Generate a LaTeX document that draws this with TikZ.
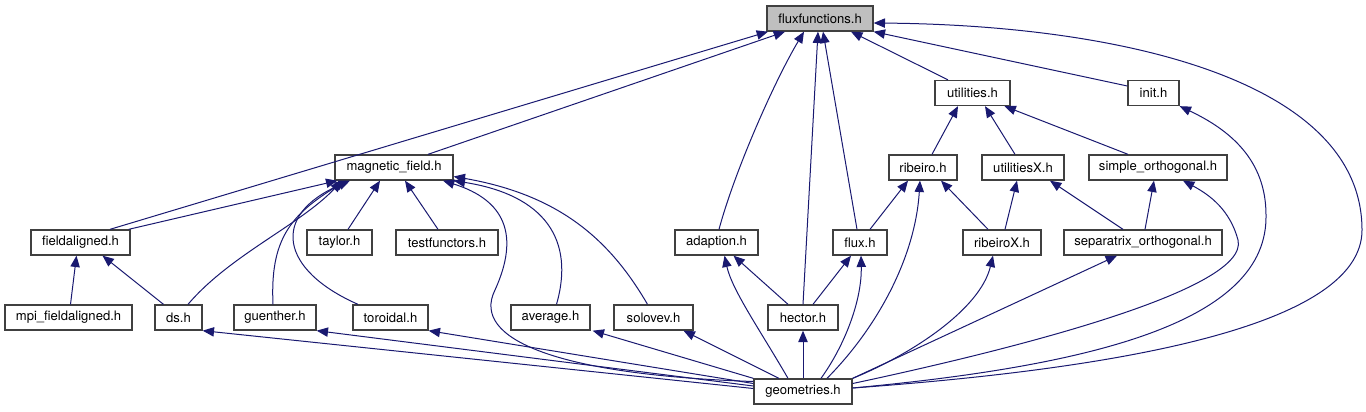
\documentclass[tikz,border=0pt]{standalone}
\usepackage{fontspec}
\setsansfont{TeX Gyre Heros}
\usetikzlibrary{arrows.meta,calc}
\definecolor{edgeblue}{HTML}{191970}
\definecolor{boxgray}{HTML}{404040}
\definecolor{rootgray}{HTML}{BFBFBF}

\begin{document}
\begin{tikzpicture}[x=0.75pt,y=-0.75pt,font=\sffamily\fontsize{9.8pt}{11pt}\selectfont,
  hfile/.style={draw=boxgray,line width=1pt,fill=white,inner xsep=0pt,minimum height=18.75pt},
  incl/.style={draw=edgeblue,line width=0.75pt,-{Triangle[length=8.5pt,width=7pt]}}]
  \useasboundingbox (0,0) rectangle (1366,411);

  % header files, one row per level
  \node[hfile,fill=rootgray,minimum width=79.5pt] (ff) at (820,18.5) {fluxfunctions.h};
  \node[hfile,minimum width=56.25pt] (util) at (972.5,93) {utilities.h};
  \node[hfile,minimum width=38.25pt] (init) at (1153.5,93) {init.h};
  \node[hfile,minimum width=88.5pt] (magf) at (394,167.5) {magnetic\_field.h};
  \node[hfile,minimum width=51pt] (rib) at (923,167.5) {ribeiro.h};
  \node[hfile,minimum width=61.5pt] (utilx) at (1023,167.5) {utilitiesX.h};
  \node[hfile,minimum width=103.5pt] (simple) at (1158,167.5) {simple\_orthogonal.h};
  \node[hfile,minimum width=74.25pt] (fa) at (80.5,242.5) {fieldaligned.h};
  \node[hfile,minimum width=48.75pt] (taylor) at (339.5,242.5) {taylor.h};
  \node[hfile,minimum width=76.5pt] (testf) at (447,242.5) {testfunctors.h};
  \node[hfile,minimum width=62.25pt] (adapt) at (716.5,242.5) {adaption.h};
  \node[hfile,minimum width=40.5pt] (flux) at (860,242.5) {flux.h};
  \node[hfile,minimum width=58.5pt] (ribx) at (1002,242.5) {ribeiroX.h};
  \node[hfile,minimum width=118.5pt] (sep) at (1143,242.5) {separatrix\_orthogonal.h};
  \node[hfile,minimum width=95.25pt] (mpi) at (68.5,317.5) {mpi\_fieldaligned.h};
  \node[hfile,minimum width=35.25pt] (ds) at (178.5,317.5) {ds.h};
  \node[hfile,minimum width=61.5pt] (guen) at (275,317.5) {guenther.h};
  \node[hfile,minimum width=56.25pt] (tor) at (390.5,317.5) {toroidal.h};
  \node[hfile,minimum width=59.25pt] (avg) at (550.5,317.5) {average.h};
  \node[hfile,minimum width=59.25pt] (sol) at (653.5,317.5) {solovev.h};
  \node[hfile,minimum width=52.5pt] (hector) at (803,317.5) {hector.h};
  \node[hfile,minimum width=73.5pt] (geom) at (803,391.5) {geometries.h};

  % into fluxfunctions.h
  \draw[incl] ($(fa.north)+(29.5,0)$) -- ($(ff.south)+(-52,0)$);
  \draw[incl] ($(magf.north)+(34,0)$) -- ($(ff.south)+(-35,0)$);
  \draw[incl] ($(adapt.north)+(2.5,0)$) .. controls (735,170) and (775,80) .. ($(ff.south)+(-16,0)$);
  \draw[incl] (hector.north) -- ($(ff.south)+(-2,0)$);
  \draw[incl] ($(flux.north)+(-3,0)$) -- ($(ff.south)+(3,0)$);
  \draw[incl] ($(util.north)+(-24.5,0)$) -- ($(ff.south)+(31,0)$);
  \draw[incl] ($(init.west)+(0,-7)$) -- (ff.south east);
  \draw[incl] ($(geom.east)+(0,-3.5)$) .. controls (1100,370) and (1362,330) .. (1362,230)
    .. controls (1362,80) and (1120,25) .. ($(ff.east)+(0,4.5)$);

  % into utilities.h and init.h
  \draw[incl] ($(rib.north)+(9,0)$) -- ($(util.south)+(-14.5,0)$);
  \draw[incl] ($(utilx.north)+(-8,0)$) -- ($(util.south)+(12.5,0)$);
  \draw[incl] ($(simple.north)+(-30,0)$) -- ($(util.south)+(32,0)$);
  \draw[incl] ($(geom.east)+(0,-3.5)$) .. controls (1100,365) and (1268,320) .. (1266,215)
    .. controls (1266,160) and (1230,130) .. (init.south east);

  % into magnetic_field.h
  \draw[incl] ($(fa.north east)+(-2,0)$) -- ($(magf.south west)+(3,0)$);
  \draw[incl] ($(ds.north)+(9.5,0)$) .. controls (230,255) and (300,225) .. ($(magf.south)+(-52,0)$);
  \draw[incl] ($(guen.north)+(-2,0)$) .. controls (270,240) and (290,215) .. ($(magf.south)+(-48,0)$);
  \draw[incl] ($(tor.north)+(-32.5,0)$) .. controls (280,270) and (270,215) .. ($(magf.south)+(-44,0)$);
  \draw[incl] ($(taylor.north)+(8.5,0)$) -- ($(magf.south)+(-14,0)$);
  \draw[incl] ($(testf.north)+(-9,0)$) -- ($(magf.south)+(11,0)$);
  \draw[incl] ($(geom.west)+(0,-10)$) .. controls (560,375) and (470,340) .. (495,290)
    .. controls (520,235) and (505,200) .. ($(magf.south)+(49,0)$);
  \draw[incl] ($(avg.north)+(6,0)$) .. controls (575,240) and (545,195) .. (magf.south east);
  \draw[incl] ($(sol.north)+(-6,0)$) .. controls (610,240) and (560,195) .. ($(magf.east)+(0,9)$);

  % into ribeiro.h, utilitiesX.h, simple_orthogonal.h
  \draw[incl] ($(flux.north)+(10,0)$) -- ($(rib.south)+(-15,0)$);
  \draw[incl] ($(geom.north)+(24,0)$) .. controls (875,330) and (915,260) .. ($(rib.south)+(-3,0)$);
  \draw[incl] ($(ribx.north)+(-14,0)$) -- ($(rib.south)+(18,0)$);
  \draw[incl] ($(ribx.north)+(3,0)$) -- ($(utilx.south)+(-6,0)$);
  \draw[incl] ($(sep.north)+(-20,0)$) -- ($(utilx.south)+(27,0)$);
  \draw[incl] ($(sep.north)+(2,0)$) -- ($(simple.south)+(-4,0)$);
  \draw[incl] ($(geom.east)+(0,-8)$) .. controls (1010,350) and (1250,290) .. (1238,240)
    .. controls (1230,210) and (1210,195) .. ($(simple.south)+(25,0)$);

  % into fieldaligned.h
  \draw[incl] ($(mpi.north)+(2,0)$) -- ($(fa.south)+(-4,0)$);
  \draw[incl] ($(ds.north)+(-15,0)$) -- ($(fa.south)+(22,0)$);

  % into adaption.h, flux.h, ribeiroX.h, separatrix_orthogonal.h
  \draw[incl] ($(hector.north)+(-15,0)$) -- ($(adapt.south)+(17,0)$);
  \draw[incl] ($(geom.north)+(-15,0)$) .. controls (760,330) and (732,290) .. ($(adapt.south)+(8,0)$);
  \draw[incl] ($(hector.north)+(10,0)$) -- ($(flux.south)+(-9,0)$);
  \draw[incl] ($(geom.north)+(18,0)$) .. controls (845,345) and (862,300) .. ($(flux.south)+(1,0)$);
  \draw[incl] (geom.north east) .. controls (910,355) and (980,310) .. ($(ribx.south)+(-9,0)$);
  \draw[incl] (geom.north east) -- ($(sep.south)+(-26,0)$);

  % into the lowest row
  \draw[incl] ($(geom.west)+(0,-3)$) -- (ds.south east);
  \draw[incl] ($(geom.west)+(0,-5.5)$) -- (guen.south east);
  \draw[incl] ($(geom.west)+(0,-8)$) -- (tor.south east);
  \draw[incl] (geom.north west) -- ($(avg.south east)+(2,0)$);
  \draw[incl] ($(geom.north)+(-24,0)$) -- ($(sol.south)+(30,0)$);
  \draw[incl] (geom.north) -- (hector.south);
\end{tikzpicture}
\end{document}
